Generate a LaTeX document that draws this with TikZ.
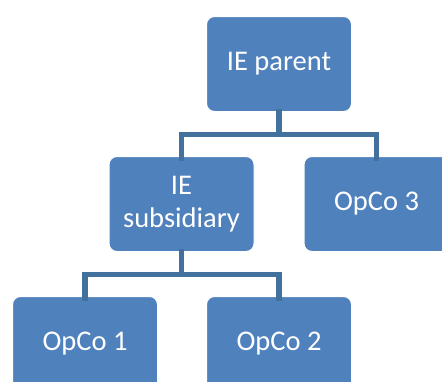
\documentclass[tikz,border=0pt]{standalone}
\usepackage{fontspec}
\setmainfont{Carlito}
\definecolor{boxblue}{HTML}{4F81BD}
\definecolor{linkblue}{HTML}{41719C}
\begin{document}
\begin{tikzpicture}[x=1pt,y=-1pt,
  orgbox/.style={rectangle, rounded corners=8pt, fill=boxblue, draw=white, line width=1pt,
    minimum width=145pt, minimum height=95pt, text=white, align=center,
    font=\fontsize{28.5}{33}\selectfont, inner sep=2pt},
  link/.style={draw=linkblue, line width=5.5pt}]
\useasboundingbox (0,0) rectangle (442,381);
\clip (0,0) rectangle (442,381);
\fill[white] (0,0) rectangle (442,381);
\coordinate (j1) at (279,134.5);
\coordinate (j2) at (181.5,274.5);
\node[orgbox] (parent) at (279,64) {IE parent};
\node[orgbox] (sub) at (181.5,204) {IE\\subsidiary};
\node[orgbox] (op3) at (376.5,204) {OpCo 3};
\node[orgbox] (op1) at (85,344) {OpCo 1};
\node[orgbox] (op2) at (279,344) {OpCo 2};
\begin{scope}[on background layer/.style={}]
\end{scope}
\draw[link] ([yshift=3pt]parent.south) -- (j1);
\draw[link] ([yshift=-5pt]sub.north) |- (j1) -| ([yshift=-5pt]op3.north);
\draw[link] ([yshift=3pt]sub.south) -- (j2);
\draw[link] ([yshift=-5pt]op1.north) |- (j2) -| ([yshift=-5pt]op2.north);
\end{tikzpicture}
\end{document}
